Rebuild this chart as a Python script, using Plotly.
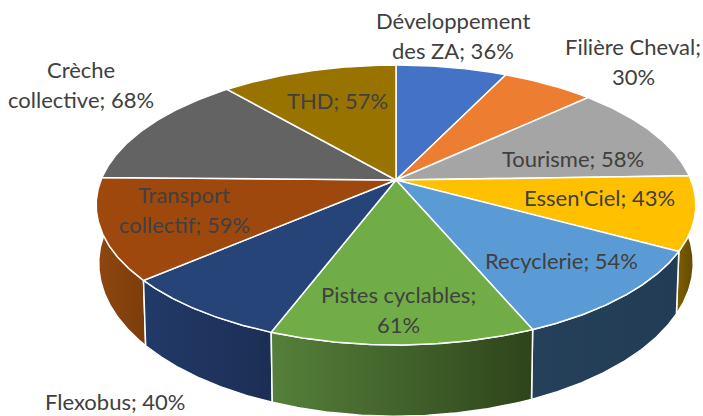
import numpy as np
import plotly.graph_objects as go

categories = ["Développement des ZA", "Filière Cheval", "Tourisme", "Essen'Ciel", "Recyclerie",
              "Pistes cyclables", "Flexobus", "Transport collectif", "Crèche collective", "THD"]
values = [36, 30, 58, 43, 54, 61, 40, 59, 68, 57]
top_colors = ["#4472c4", "#ed7d31", "#a5a5a5", "#ffc000", "#5b9bd5",
              "#70ad47", "#264478", "#9e480e", "#636363", "#997300"]
side_colors = [("#2f5597", "#2f5597"), ("#a5561f", "#a5561f"), ("#737373", "#737373"),
               ("#7f6000", "#5e4700"), ("#25405a", "#223c55"), ("#55803a", "#2e441b"),
               ("#223a68", "#1b2e55"), ("#8f4710", "#7c3c0a"), ("#454545", "#454545"), ("#6b5000", "#6b5000")]

# layout of the labels: first line of wrapped labels, and centre of each block
first_lines = {"Développement des ZA": "Développement", "Filière Cheval": "Filière Cheval;",
               "Pistes cyclables": "Pistes cyclables;", "Transport collectif": "Transport",
               "Crèche collective": "Crèche"}
label_centres = [(453, 35), (633, 61), (573, 158), (599, 197), (561, 260),
                 (398, 309), (115, 401.5), (184, 209), (81, 84), (337, 100)]
LINE_GAP = 30

# projection of the pie disc: apex position, radii, perspective strength
TOP = dict(cx=396, cy=180, rx=295, ry=135.5)
BOTTOM = dict(cx=396, cy=236, rx=292.5, ry=148)
P = 0.1786


def project(theta, d):
    u, v = np.sin(theta), np.cos(theta)
    s = 1 / (1 + P * v)
    return d["cx"] + d["rx"] * u * s, d["cy"] - d["ry"] * v * s


edges = 2 * np.pi * np.concatenate([[0], np.cumsum(values)]) / np.sum(values)
fig = go.Figure()

# side walls, back to front
order = sorted(range(len(values)), key=lambda i: np.cos((edges[i] + edges[i + 1]) / 2), reverse=True)
for i in order:
    th = np.linspace(edges[i], edges[i + 1], 90)
    tx, ty = project(th, TOP)
    bx, by = project(th[::-1], BOTTOM)
    fig.add_trace(go.Scatter(
        x=np.r_[tx, bx, tx[0]], y=np.r_[ty, by, ty[0]], mode="lines", fill="toself",
        line=dict(color="white", width=1.5), hoverinfo="skip", showlegend=False,
        fillgradient=dict(type="horizontal",
                          colorscale=[[0, side_colors[i][0]], [1, side_colors[i][1]]])))

# top faces
for i in range(len(values)):
    th = np.linspace(edges[i], edges[i + 1], 90)
    tx, ty = project(th, TOP)
    fig.add_trace(go.Scatter(
        x=np.r_[TOP["cx"], tx, TOP["cx"]], y=np.r_[TOP["cy"], ty, TOP["cy"]], mode="lines",
        fill="toself", fillcolor=top_colors[i], line=dict(color="white", width=1.5),
        hoverinfo="skip", showlegend=False))

# labels
annotations = []
for cat, val, (lx, ly) in zip(categories, values, label_centres):
    full = f"{cat}; {val}%"
    head = first_lines.get(cat)
    lines = [head, full[len(head):].strip()] if head else [full]
    for k, line in enumerate(lines):
        annotations.append(dict(x=lx, y=ly + (k - (len(lines) - 1) / 2) * LINE_GAP, text=line,
                                showarrow=False, xanchor="center", yanchor="middle",
                                font=dict(family="Lato", size=22, color="#404040")))

fig.update_layout(
    width=703, height=416, margin=dict(l=0, r=0, t=0, b=0),
    paper_bgcolor="white", plot_bgcolor="white", annotations=annotations,
    xaxis=dict(range=[0, 703], visible=False, fixedrange=True),
    yaxis=dict(range=[416, 0], visible=False, fixedrange=True),
)
fig.write_html("out.html", config={"displayModeBar": False},
               post_script="document.body.style.margin='0';")
